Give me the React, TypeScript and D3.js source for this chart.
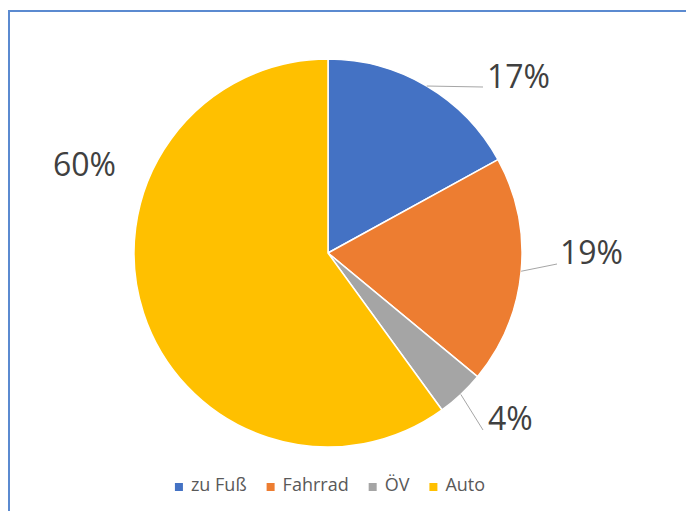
import React, { useRef, useEffect } from 'react';
import * as d3 from 'd3';

const categories = ['zu Fuß', 'Fahrrad', 'ÖV', 'Auto'];
const values = [17, 19, 4, 60];
const labels = ['17%', '19%', '4%', '60%'];
const colors = ['#4472C4', '#ED7D31', '#A5A5A5', '#FFC000'];

// label placement (Excel puts them where it likes)
const labelPos = [
  { x: 487, y: 88, lx: 483, ly: 87, line: true },
  { x: 560, y: 264, lx: 557, ly: 264, line: true },
  { x: 488, y: 430, lx: 483, ly: 430, line: true },
  { x: 53, y: 176, lx: 0, ly: 0, line: false },
];

const W = 686;
const H = 511;
const cx = 328;
const cy = 253;
const radius = 194;

function PieChart() {
  const svgRef = useRef<SVGSVGElement>(null);

  useEffect(() => {
    const svg = d3.select(svgRef.current);
    svg.selectAll('*').remove();

    svg
      .append('rect')
      .attr('x', 9)
      .attr('y', 11)
      .attr('width', W + 20)
      .attr('height', H + 20)
      .attr('fill', '#fff')
      .attr('stroke', '#5B8AD0')
      .attr('stroke-width', 2);

    const pie = d3
      .pie<number>()
      .sort(null)
      .value((d) => d);
    const arcs = pie(values);

    const arc = d3.arc<d3.PieArcDatum<number>>().innerRadius(0).outerRadius(radius);
    const edge = d3.arc<d3.PieArcDatum<number>>().innerRadius(radius).outerRadius(radius);

    const g = svg.append('g').attr('transform', `translate(${cx},${cy})`);

    g.selectAll('path.slice')
      .data(arcs)
      .join('path')
      .attr('class', 'slice')
      .attr('d', arc)
      .attr('fill', (d, i) => colors[i])
      .attr('stroke', '#fff')
      .attr('stroke-width', 1.5)
      .attr('stroke-linejoin', 'round');

    // leader lines
    g.selectAll('polyline.leader')
      .data(arcs.filter((d, i) => labelPos[i].line))
      .join('polyline')
      .attr('class', 'leader')
      .attr('fill', 'none')
      .attr('stroke', '#A6A6A6')
      .attr('stroke-width', 1)
      .attr('points', (d) => {
        const p = edge.centroid(d);
        const lp = labelPos[d.index];
        return `${p[0]},${p[1]} ${lp.lx - cx},${lp.ly - cy}`;
      });

    svg
      .selectAll('text.lbl')
      .data(labels)
      .join('text')
      .attr('class', 'lbl')
      .attr('x', (d, i) => labelPos[i].x)
      .attr('y', (d, i) => labelPos[i].y)
      .attr('font-family', '"Open Sans", sans-serif')
      .attr('font-size', 32)
      .attr('fill', '#404040')
      .text((d) => d);

    // legend
    const legend = svg.append('g').attr('transform', 'translate(0,491)');
    const items = legend
      .selectAll('g.item')
      .data(categories)
      .join('g')
      .attr('class', 'item');
    items
      .append('rect')
      .attr('y', -8)
      .attr('width', 8)
      .attr('height', 8)
      .attr('fill', (d, i) => colors[i]);
    items
      .append('text')
      .attr('x', 16)
      .attr('font-family', '"Open Sans", sans-serif')
      .attr('font-size', 18)
      .attr('fill', '#595959')
      .text((d) => d);

    let x = 0;
    const xs: number[] = [];
    items.each(function () {
      xs.push(x);
      const w = (d3.select(this).select('text').node() as SVGTextElement).getComputedTextLength();
      x += 16 + w + 20;
    });
    const total = x - 20;
    const start = 330 - total / 2;
    items.attr('transform', (d, i) => `translate(${start + xs[i]},0)`);
  }, []);

  return <svg ref={svgRef} width={W} height={H} style={{ position: 'absolute', left: 0, top: 0 }} />;
}

export default function App() {
  return <PieChart />;
}
